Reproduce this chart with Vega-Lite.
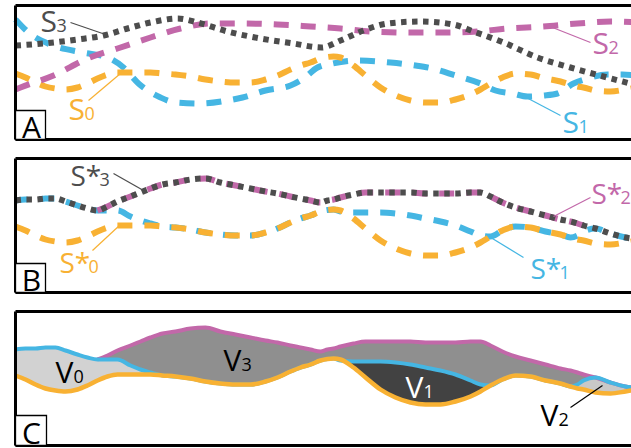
{
  "$schema": "https://vega.github.io/schema/vega-lite/v6.json",
  "padding": {"left": 3.5, "top": 3.5, "right": 0, "bottom": 0},
  "bounds": "flush",
  "spacing": 19,
  "background": "white",
  "config": {"view": {"stroke": null}, "axis": {"disable": true}, "legend": {"disable": true}, "text": {"font": "Open Sans"}},
  "datasets": {
    "one": [{}],
    "wide": [
      {"x": 0, "s0": 68, "s1": 42, "s3": 42},
      {"x": 10, "s0": 72, "s1": 41, "s3": 41},
      {"x": 20, "s0": 77, "s1": 41, "s3": 41},
      {"x": 30, "s0": 81, "s1": 40, "s3": 40},
      {"x": 40, "s0": 83, "s1": 40, "s3": 40},
      {"x": 50, "s0": 84, "s1": 43, "s3": 43},
      {"x": 62, "s0": 82, "s1": 47, "s3": 47},
      {"x": 72, "s0": 78, "s1": 50, "s3": 50},
      {"x": 82, "s0": 73, "s1": 52, "s3": 52},
      {"x": 92, "s0": 69, "s1": 52, "s3": 48},
      {"x": 102, "s0": 67, "s1": 52, "s3": 43},
      {"x": 115, "s0": 67, "s1": 58, "s3": 38},
      {"x": 125, "s0": 67, "s1": 62, "s3": 34},
      {"x": 135, "s0": 67, "s1": 65, "s3": 30},
      {"x": 147, "s0": 68, "s1": 68, "s3": 26},
      {"x": 160, "s0": 69, "s1": 69, "s3": 24},
      {"x": 175, "s0": 71, "s1": 71, "s3": 21},
      {"x": 190, "s0": 74, "s1": 74, "s3": 20},
      {"x": 205, "s0": 76, "s1": 76, "s3": 24},
      {"x": 220, "s0": 77, "s1": 77, "s3": 27},
      {"x": 235, "s0": 77, "s1": 77, "s3": 30},
      {"x": 250, "s0": 74, "s1": 74, "s3": 33},
      {"x": 262, "s0": 70, "s1": 70, "s3": 35},
      {"x": 275, "s0": 64, "s1": 64, "s3": 38},
      {"x": 285, "s0": 60, "s1": 60, "s3": 40},
      {"x": 295, "s0": 57, "s1": 57, "s3": 42},
      {"x": 305, "s0": 53, "s1": 53, "s3": 44},
      {"x": 312, "s0": 51.5, "s1": 51.5, "s3": 42},
      {"x": 318, "s0": 51, "s1": 51, "s3": 41},
      {"x": 325, "s0": 52, "s1": 53, "s3": 39},
      {"x": 338, "s0": 60, "s1": 54, "s3": 36},
      {"x": 350, "s0": 70, "s1": 54, "s3": 34},
      {"x": 365, "s0": 82, "s1": 54, "s3": 34},
      {"x": 380, "s0": 90, "s1": 55, "s3": 34},
      {"x": 395, "s0": 95, "s1": 57, "s3": 34},
      {"x": 410, "s0": 97, "s1": 60, "s3": 35},
      {"x": 425, "s0": 97, "s1": 63, "s3": 35},
      {"x": 440, "s0": 94, "s1": 67, "s3": 35},
      {"x": 455, "s0": 89, "s1": 73, "s3": 34},
      {"x": 465, "s0": 84, "s1": 77, "s3": 34},
      {"x": 475, "s0": 78, "s1": 78, "s3": 38},
      {"x": 487, "s0": 72, "s1": 72, "s3": 44},
      {"x": 500, "s0": 68, "s1": 68, "s3": 49},
      {"x": 515, "s0": 69, "s1": 69, "s3": 53},
      {"x": 530, "s0": 73, "s1": 73, "s3": 57},
      {"x": 545, "s0": 76, "s1": 76, "s3": 61},
      {"x": 555, "s0": 79, "s1": 79, "s3": 63},
      {"x": 562, "s0": 81, "s1": 77, "s3": 65},
      {"x": 568, "s0": 82, "s1": 73, "s3": 67},
      {"x": 580, "s0": 85, "s1": 70, "s3": 70},
      {"x": 595, "s0": 86, "s1": 75, "s3": 75},
      {"x": 610, "s0": 84, "s1": 79, "s3": 79},
      {"x": 626, "s0": 81, "s1": 81, "s3": 81}
    ],
    "a": [
      {"s": "S3", "x": 0, "y": 40}, {"s": "S3", "x": 28, "y": 38}, {"s": "S3", "x": 62, "y": 34}, {"s": "S3", "x": 88, "y": 30},
      {"s": "S3", "x": 112, "y": 23}, {"s": "S3", "x": 135, "y": 17}, {"s": "S3", "x": 162, "y": 13}, {"s": "S3", "x": 182, "y": 17},
      {"s": "S3", "x": 212, "y": 26}, {"s": "S3", "x": 245, "y": 33}, {"s": "S3", "x": 278, "y": 38}, {"s": "S3", "x": 306, "y": 42},
      {"s": "S3", "x": 325, "y": 35}, {"s": "S3", "x": 348, "y": 25}, {"s": "S3", "x": 372, "y": 18}, {"s": "S3", "x": 405, "y": 16},
      {"s": "S3", "x": 438, "y": 19}, {"s": "S3", "x": 458, "y": 26}, {"s": "S3", "x": 488, "y": 37}, {"s": "S3", "x": 522, "y": 52},
      {"s": "S3", "x": 555, "y": 62}, {"s": "S3", "x": 588, "y": 71}, {"s": "S3", "x": 626, "y": 81},
      {"s": "S2", "x": 0, "y": 84}, {"s": "S2", "x": 5, "y": 82}, {"s": "S2", "x": 38, "y": 70}, {"s": "S2", "x": 72, "y": 53},
      {"s": "S2", "x": 102, "y": 43}, {"s": "S2", "x": 135, "y": 32}, {"s": "S2", "x": 165, "y": 23}, {"s": "S2", "x": 195, "y": 18},
      {"s": "S2", "x": 228, "y": 18}, {"s": "S2", "x": 262, "y": 19}, {"s": "S2", "x": 295, "y": 21}, {"s": "S2", "x": 325, "y": 23},
      {"s": "S2", "x": 355, "y": 26}, {"s": "S2", "x": 395, "y": 27}, {"s": "S2", "x": 428, "y": 27}, {"s": "S2", "x": 462, "y": 26},
      {"s": "S2", "x": 492, "y": 23}, {"s": "S2", "x": 528, "y": 21}, {"s": "S2", "x": 562, "y": 18}, {"s": "S2", "x": 595, "y": 16},
      {"s": "S2", "x": 626, "y": 17},
      {"s": "S1", "x": 0, "y": 14}, {"s": "S1", "x": 13, "y": 27}, {"s": "S1", "x": 35, "y": 39}, {"s": "S1", "x": 67, "y": 47},
      {"s": "S1", "x": 92, "y": 52}, {"s": "S1", "x": 108, "y": 62}, {"s": "S1", "x": 123, "y": 78}, {"s": "S1", "x": 145, "y": 92},
      {"s": "S1", "x": 160, "y": 97}, {"s": "S1", "x": 185, "y": 98}, {"s": "S1", "x": 212, "y": 95}, {"s": "S1", "x": 227, "y": 92},
      {"s": "S1", "x": 250, "y": 85}, {"s": "S1", "x": 275, "y": 80}, {"s": "S1", "x": 288, "y": 73}, {"s": "S1", "x": 302, "y": 62},
      {"s": "S1", "x": 317, "y": 58}, {"s": "S1", "x": 342, "y": 55}, {"s": "S1", "x": 375, "y": 57}, {"s": "S1", "x": 400, "y": 60},
      {"s": "S1", "x": 417, "y": 63}, {"s": "S1", "x": 440, "y": 70}, {"s": "S1", "x": 465, "y": 78}, {"s": "S1", "x": 480, "y": 85},
      {"s": "S1", "x": 497, "y": 88}, {"s": "S1", "x": 512, "y": 91}, {"s": "S1", "x": 528, "y": 90}, {"s": "S1", "x": 542, "y": 88},
      {"s": "S1", "x": 558, "y": 78}, {"s": "S1", "x": 572, "y": 73}, {"s": "S1", "x": 592, "y": 69}, {"s": "S1", "x": 607, "y": 69},
      {"s": "S1", "x": 626, "y": 71}
    ],
    "lab": [
      {"p": "A", "c": "S3", "main": "S", "sub": "3", "x": 25, "y": 26},
      {"p": "A", "c": "S0", "main": "S", "sub": "0", "x": 53, "y": 114},
      {"p": "A", "c": "S2", "main": "S", "sub": "2", "x": 577, "y": 48},
      {"p": "A", "c": "S1", "main": "S", "sub": "1", "x": 547, "y": 127},
      {"p": "B", "c": "S3", "main": "S*", "sub": "3", "x": 55, "y": 27},
      {"p": "B", "c": "S0", "main": "S*", "sub": "0", "x": 44, "y": 114},
      {"p": "B", "c": "S2", "main": "S*", "sub": "2", "x": 576, "y": 45},
      {"p": "B", "c": "S1", "main": "S*", "sub": "1", "x": 515, "y": 120},
      {"p": "C", "c": "V0", "main": "V", "sub": "0", "x": 40, "y": 75},
      {"p": "C", "c": "V3", "main": "V", "sub": "3", "x": 208, "y": 63},
      {"p": "C", "c": "V1", "main": "V", "sub": "1", "x": 390, "y": 90},
      {"p": "C", "c": "V2", "main": "V", "sub": "2", "x": 525, "y": 118}
    ],
    "lead": [
      {"p": "A", "c": "S3", "x": 55, "y": 17, "x2": 90, "y2": 29},
      {"p": "A", "c": "S0", "x": 73, "y": 95, "x2": 105, "y2": 68},
      {"p": "A", "c": "S2", "x": 537, "y": 22, "x2": 575, "y2": 37},
      {"p": "A", "c": "S1", "x": 507, "y": 90, "x2": 545, "y2": 110},
      {"p": "B", "c": "S3", "x": 98, "y": 15, "x2": 128, "y2": 32},
      {"p": "B", "c": "S0", "x": 77, "y": 92, "x2": 105, "y2": 66},
      {"p": "B", "c": "S2", "x": 538, "y": 58, "x2": 575, "y2": 39},
      {"p": "B", "c": "S1", "x": 472, "y": 77, "x2": 508, "y2": 99},
      {"p": "C", "c": "V2", "x": 555, "y": 100, "x2": 587, "y2": 78}
    ]
  },
  "vconcat": [
    {
      "width": 626, "height": 134,
      "layer": [
        {"data": {"name": "a"}, "transform": [{"filter": "datum.s == 'S1'"}],
         "mark": {"type": "line", "color": "#45b6e3", "strokeWidth": 6, "strokeDash": [15, 12], "interpolate": "monotone"},
         "encoding": {"x": {"field": "x", "type": "quantitative", "scale": {"domain": [0, 626]}}, "y": {"field": "y", "type": "quantitative", "scale": {"domain": [0, 134], "reverse": true}}}},
        {"data": {"name": "wide"},
         "mark": {"type": "line", "color": "#f8b133", "strokeWidth": 6, "strokeDash": [15, 12], "interpolate": "monotone"},
         "encoding": {"x": {"field": "x", "type": "quantitative", "scale": {"domain": [0, 626]}}, "y": {"field": "s0", "type": "quantitative", "scale": {"domain": [0, 134], "reverse": true}}}},
        {"data": {"name": "a"}, "transform": [{"filter": "datum.s == 'S2'"}],
         "mark": {"type": "line", "color": "#c268a9", "strokeWidth": 6, "strokeDash": [15, 12], "interpolate": "monotone"},
         "encoding": {"x": {"field": "x", "type": "quantitative", "scale": {"domain": [0, 626]}}, "y": {"field": "y", "type": "quantitative", "scale": {"domain": [0, 134], "reverse": true}}}},
        {"data": {"name": "a"}, "transform": [{"filter": "datum.s == 'S3'"}],
         "mark": {"type": "line", "color": "#4d4d4d", "strokeWidth": 6, "strokeDash": [5.5, 5.5], "interpolate": "monotone"},
         "encoding": {"x": {"field": "x", "type": "quantitative", "scale": {"domain": [0, 626]}}, "y": {"field": "y", "type": "quantitative", "scale": {"domain": [0, 134], "reverse": true}}}},
        {"data": {"name": "lead"}, "transform": [{"filter": "datum.p == 'A'"}],
         "mark": {"type": "rule", "strokeWidth": 1.2},
         "encoding": {"x": {"field": "x", "type": "quantitative", "scale": {"domain": [0, 626]}}, "y": {"field": "y", "type": "quantitative", "scale": {"domain": [0, 134], "reverse": true}}, "x2": {"field": "x2"}, "y2": {"field": "y2"},
           "color": {"field": "c", "type": "nominal", "scale": {"domain": ["S0", "S1", "S2", "S3", "V0", "V1", "V2", "V3"], "range": ["#f8b133", "#45b6e3", "#c268a9", "#4d4d4d", "#000000", "#ffffff", "#000000", "#000000"]}}}},
        {"data": {"name": "lab"}, "transform": [{"filter": "datum.p == 'A'"}],
         "mark": {"type": "text", "align": "left", "baseline": "alphabetic", "fontSize": 30},
         "encoding": {"x": {"field": "x", "type": "quantitative", "scale": {"domain": [0, 626]}}, "y": {"field": "y", "type": "quantitative", "scale": {"domain": [0, 134], "reverse": true}}, "text": {"field": "main"},
           "color": {"field": "c", "type": "nominal", "scale": {"domain": ["S0", "S1", "S2", "S3", "V0", "V1", "V2", "V3"], "range": ["#f8b133", "#45b6e3", "#c268a9", "#4d4d4d", "#000000", "#ffffff", "#000000", "#000000"]}}}},
        {"data": {"name": "lab"}, "transform": [{"filter": "datum.p == 'A'"}],
         "mark": {"type": "text", "align": "left", "baseline": "alphabetic", "fontSize": 18, "dx": 16},
         "encoding": {"x": {"field": "x", "type": "quantitative", "scale": {"domain": [0, 626]}}, "y": {"field": "y", "type": "quantitative", "scale": {"domain": [0, 134], "reverse": true}}, "text": {"field": "sub"},
           "color": {"field": "c", "type": "nominal", "scale": {"domain": ["S0", "S1", "S2", "S3", "V0", "V1", "V2", "V3"], "range": ["#f8b133", "#45b6e3", "#c268a9", "#4d4d4d", "#000000", "#ffffff", "#000000", "#000000"]}}}},
        {"data": {"name": "one"}, "mark": {"type": "rule", "color": "black", "strokeWidth": 3}, "encoding": {"y": {"datum": 0, "type": "quantitative", "scale": {"domain": [0, 134], "reverse": true}}}},
        {"data": {"name": "one"}, "mark": {"type": "rule", "color": "black", "strokeWidth": 3}, "encoding": {"y": {"datum": 134, "type": "quantitative", "scale": {"domain": [0, 134], "reverse": true}}}},
        {"data": {"name": "one"}, "mark": {"type": "rule", "color": "black", "strokeWidth": 3}, "encoding": {"x": {"datum": 0, "type": "quantitative", "scale": {"domain": [0, 626]}}}},
        {"data": {"name": "one"}, "mark": {"type": "rect", "fill": "white", "stroke": "black", "strokeWidth": 1.3},
         "encoding": {"x": {"datum": 0, "type": "quantitative", "scale": {"domain": [0, 626]}}, "x2": {"datum": 30}, "y": {"datum": 105, "type": "quantitative", "scale": {"domain": [0, 134], "reverse": true}}, "y2": {"datum": 134}}},
        {"data": {"name": "one"}, "mark": {"type": "text", "text": "A", "fontSize": 30, "align": "center", "baseline": "alphabetic", "color": "black"},
         "encoding": {"x": {"datum": 16, "type": "quantitative", "scale": {"domain": [0, 626]}}, "y": {"datum": 132, "type": "quantitative", "scale": {"domain": [0, 134], "reverse": true}}}}
      ]
    },
    {
      "width": 626, "height": 134,
      "layer": [
        {"data": {"name": "wide"},
         "mark": {"type": "line", "color": "#45b6e3", "strokeWidth": 6, "strokeDash": [15, 12], "strokeDashOffset": 3, "interpolate": "monotone"},
         "encoding": {"x": {"field": "x", "type": "quantitative", "scale": {"domain": [0, 626]}}, "y": {"field": "s1", "type": "quantitative", "scale": {"domain": [0, 134], "reverse": true}}}},
        {"data": {"name": "wide"},
         "mark": {"type": "line", "color": "#f8b133", "strokeWidth": 6, "strokeDash": [15, 12], "interpolate": "monotone"},
         "encoding": {"x": {"field": "x", "type": "quantitative", "scale": {"domain": [0, 626]}}, "y": {"field": "s0", "type": "quantitative", "scale": {"domain": [0, 134], "reverse": true}}}},
        {"data": {"name": "wide"}, "transform": [{"filter": "datum.x >= 82 && datum.x <= 580"}],
         "mark": {"type": "line", "color": "#c268a9", "strokeWidth": 6, "strokeDash": [15, 12], "interpolate": "monotone"},
         "encoding": {"x": {"field": "x", "type": "quantitative", "scale": {"domain": [0, 626]}}, "y": {"field": "s3", "type": "quantitative", "scale": {"domain": [0, 134], "reverse": true}}}},
        {"data": {"name": "wide"},
         "mark": {"type": "line", "color": "#4d4d4d", "strokeWidth": 6, "strokeDash": [5.5, 5.5], "interpolate": "monotone"},
         "encoding": {"x": {"field": "x", "type": "quantitative", "scale": {"domain": [0, 626]}}, "y": {"field": "s3", "type": "quantitative", "scale": {"domain": [0, 134], "reverse": true}}}},
        {"data": {"name": "lead"}, "transform": [{"filter": "datum.p == 'B'"}],
         "mark": {"type": "rule", "strokeWidth": 1.2},
         "encoding": {"x": {"field": "x", "type": "quantitative", "scale": {"domain": [0, 626]}}, "y": {"field": "y", "type": "quantitative", "scale": {"domain": [0, 134], "reverse": true}}, "x2": {"field": "x2"}, "y2": {"field": "y2"},
           "color": {"field": "c", "type": "nominal", "scale": {"domain": ["S0", "S1", "S2", "S3", "V0", "V1", "V2", "V3"], "range": ["#f8b133", "#45b6e3", "#c268a9", "#4d4d4d", "#000000", "#ffffff", "#000000", "#000000"]}}}},
        {"data": {"name": "lab"}, "transform": [{"filter": "datum.p == 'B'"}],
         "mark": {"type": "text", "align": "left", "baseline": "alphabetic", "fontSize": 28},
         "encoding": {"x": {"field": "x", "type": "quantitative", "scale": {"domain": [0, 626]}}, "y": {"field": "y", "type": "quantitative", "scale": {"domain": [0, 134], "reverse": true}}, "text": {"field": "main"},
           "color": {"field": "c", "type": "nominal", "scale": {"domain": ["S0", "S1", "S2", "S3", "V0", "V1", "V2", "V3"], "range": ["#f8b133", "#45b6e3", "#c268a9", "#4d4d4d", "#000000", "#ffffff", "#000000", "#000000"]}}}},
        {"data": {"name": "lab"}, "transform": [{"filter": "datum.p == 'B'"}],
         "mark": {"type": "text", "align": "left", "baseline": "alphabetic", "fontSize": 18, "dx": 29},
         "encoding": {"x": {"field": "x", "type": "quantitative", "scale": {"domain": [0, 626]}}, "y": {"field": "y", "type": "quantitative", "scale": {"domain": [0, 134], "reverse": true}}, "text": {"field": "sub"},
           "color": {"field": "c", "type": "nominal", "scale": {"domain": ["S0", "S1", "S2", "S3", "V0", "V1", "V2", "V3"], "range": ["#f8b133", "#45b6e3", "#c268a9", "#4d4d4d", "#000000", "#ffffff", "#000000", "#000000"]}}}},
        {"data": {"name": "one"}, "mark": {"type": "rule", "color": "black", "strokeWidth": 3}, "encoding": {"y": {"datum": 0, "type": "quantitative", "scale": {"domain": [0, 134], "reverse": true}}}},
        {"data": {"name": "one"}, "mark": {"type": "rule", "color": "black", "strokeWidth": 3}, "encoding": {"y": {"datum": 134, "type": "quantitative", "scale": {"domain": [0, 134], "reverse": true}}}},
        {"data": {"name": "one"}, "mark": {"type": "rule", "color": "black", "strokeWidth": 3}, "encoding": {"x": {"datum": 0, "type": "quantitative", "scale": {"domain": [0, 626]}}}},
        {"data": {"name": "one"}, "mark": {"type": "rect", "fill": "white", "stroke": "black", "strokeWidth": 1.3},
         "encoding": {"x": {"datum": 0, "type": "quantitative", "scale": {"domain": [0, 626]}}, "x2": {"datum": 30}, "y": {"datum": 105, "type": "quantitative", "scale": {"domain": [0, 134], "reverse": true}}, "y2": {"datum": 134}}},
        {"data": {"name": "one"}, "mark": {"type": "text", "text": "B", "fontSize": 30, "align": "center", "baseline": "alphabetic", "color": "black"},
         "encoding": {"x": {"datum": 16, "type": "quantitative", "scale": {"domain": [0, 626]}}, "y": {"datum": 132, "type": "quantitative", "scale": {"domain": [0, 134], "reverse": true}}}}
      ]
    },
    {
      "width": 626, "height": 134,
      "layer": [
        {"data": {"name": "wide"}, "transform": [{"filter": "datum.x <= 147"}],
         "mark": {"type": "area", "color": "#d2d2d2", "interpolate": "monotone"},
         "encoding": {"x": {"field": "x", "type": "quantitative", "scale": {"domain": [0, 626]}}, "y": {"field": "s1", "type": "quantitative", "scale": {"domain": [4, 138], "reverse": true}}, "y2": {"field": "s0"}}},
        {"data": {"name": "wide"}, "transform": [{"filter": "datum.x >= 318 && datum.x <= 475"}],
         "mark": {"type": "area", "color": "#424242", "interpolate": "monotone"},
         "encoding": {"x": {"field": "x", "type": "quantitative", "scale": {"domain": [0, 626]}}, "y": {"field": "s1", "type": "quantitative", "scale": {"domain": [4, 138], "reverse": true}}, "y2": {"field": "s0"}}},
        {"data": {"name": "wide"}, "transform": [{"filter": "datum.x >= 555"}],
         "mark": {"type": "area", "color": "#c8c8c8", "interpolate": "monotone"},
         "encoding": {"x": {"field": "x", "type": "quantitative", "scale": {"domain": [0, 626]}}, "y": {"field": "s1", "type": "quantitative", "scale": {"domain": [4, 138], "reverse": true}}, "y2": {"field": "s0"}}},
        {"data": {"name": "wide"},
         "mark": {"type": "area", "color": "#8f8f8f", "interpolate": "monotone"},
         "encoding": {"x": {"field": "x", "type": "quantitative", "scale": {"domain": [0, 626]}}, "y": {"field": "s3", "type": "quantitative", "scale": {"domain": [4, 138], "reverse": true}}, "y2": {"field": "s1"}}},
        {"data": {"name": "wide"}, "transform": [{"filter": "datum.x >= 82"}],
         "mark": {"type": "line", "color": "#c268a9", "strokeWidth": 4, "interpolate": "monotone"},
         "encoding": {"x": {"field": "x", "type": "quantitative", "scale": {"domain": [0, 626]}}, "y": {"field": "s3", "type": "quantitative", "scale": {"domain": [4, 138], "reverse": true}}}},
        {"data": {"name": "wide"},
         "mark": {"type": "line", "color": "#45b6e3", "strokeWidth": 4, "interpolate": "monotone"},
         "encoding": {"x": {"field": "x", "type": "quantitative", "scale": {"domain": [0, 626]}}, "y": {"field": "s1", "type": "quantitative", "scale": {"domain": [4, 138], "reverse": true}}}},
        {"data": {"name": "wide"},
         "mark": {"type": "line", "color": "#f8b133", "strokeWidth": 4.5, "interpolate": "monotone"},
         "encoding": {"x": {"field": "x", "type": "quantitative", "scale": {"domain": [0, 626]}}, "y": {"field": "s0", "type": "quantitative", "scale": {"domain": [4, 138], "reverse": true}}}},
        {"data": {"name": "lead"}, "transform": [{"filter": "datum.p == 'C'"}],
         "mark": {"type": "rule", "strokeWidth": 1.2},
         "encoding": {"x": {"field": "x", "type": "quantitative", "scale": {"domain": [0, 626]}}, "y": {"field": "y", "type": "quantitative", "scale": {"domain": [4, 138], "reverse": true}}, "x2": {"field": "x2"}, "y2": {"field": "y2"},
           "color": {"field": "c", "type": "nominal", "scale": {"domain": ["S0", "S1", "S2", "S3", "V0", "V1", "V2", "V3"], "range": ["#f8b133", "#45b6e3", "#c268a9", "#4d4d4d", "#000000", "#ffffff", "#000000", "#000000"]}}}},
        {"data": {"name": "lab"}, "transform": [{"filter": "datum.p == 'C'"}],
         "mark": {"type": "text", "align": "left", "baseline": "alphabetic", "fontSize": 30},
         "encoding": {"x": {"field": "x", "type": "quantitative", "scale": {"domain": [0, 626]}}, "y": {"field": "y", "type": "quantitative", "scale": {"domain": [4, 138], "reverse": true}}, "text": {"field": "main"},
           "color": {"field": "c", "type": "nominal", "scale": {"domain": ["S0", "S1", "S2", "S3", "V0", "V1", "V2", "V3"], "range": ["#f8b133", "#45b6e3", "#c268a9", "#4d4d4d", "#000000", "#ffffff", "#000000", "#000000"]}}}},
        {"data": {"name": "lab"}, "transform": [{"filter": "datum.p == 'C'"}],
         "mark": {"type": "text", "align": "left", "baseline": "alphabetic", "fontSize": 18, "dx": 18},
         "encoding": {"x": {"field": "x", "type": "quantitative", "scale": {"domain": [0, 626]}}, "y": {"field": "y", "type": "quantitative", "scale": {"domain": [4, 138], "reverse": true}}, "text": {"field": "sub"},
           "color": {"field": "c", "type": "nominal", "scale": {"domain": ["S0", "S1", "S2", "S3", "V0", "V1", "V2", "V3"], "range": ["#f8b133", "#45b6e3", "#c268a9", "#4d4d4d", "#000000", "#ffffff", "#000000", "#000000"]}}}},
        {"data": {"name": "one"}, "mark": {"type": "rule", "color": "black", "strokeWidth": 3}, "encoding": {"y": {"datum": 4, "type": "quantitative", "scale": {"domain": [4, 138], "reverse": true}}}},
        {"data": {"name": "one"}, "mark": {"type": "rule", "color": "black", "strokeWidth": 3}, "encoding": {"y": {"datum": 138, "type": "quantitative", "scale": {"domain": [4, 138], "reverse": true}}}},
        {"data": {"name": "one"}, "mark": {"type": "rule", "color": "black", "strokeWidth": 3}, "encoding": {"x": {"datum": 0, "type": "quantitative", "scale": {"domain": [0, 626]}}}},
        {"data": {"name": "one"}, "mark": {"type": "rect", "fill": "white", "stroke": "black", "strokeWidth": 1.3},
         "encoding": {"x": {"datum": 0, "type": "quantitative", "scale": {"domain": [0, 626]}}, "x2": {"datum": 31}, "y": {"datum": 108, "type": "quantitative", "scale": {"domain": [4, 138], "reverse": true}}, "y2": {"datum": 138}}},
        {"data": {"name": "one"}, "mark": {"type": "text", "text": "C", "fontSize": 30, "align": "center", "baseline": "alphabetic", "color": "black"},
         "encoding": {"x": {"datum": 16, "type": "quantitative", "scale": {"domain": [0, 626]}}, "y": {"datum": 136, "type": "quantitative", "scale": {"domain": [4, 138], "reverse": true}}}}
      ]
    }
  ]
}
